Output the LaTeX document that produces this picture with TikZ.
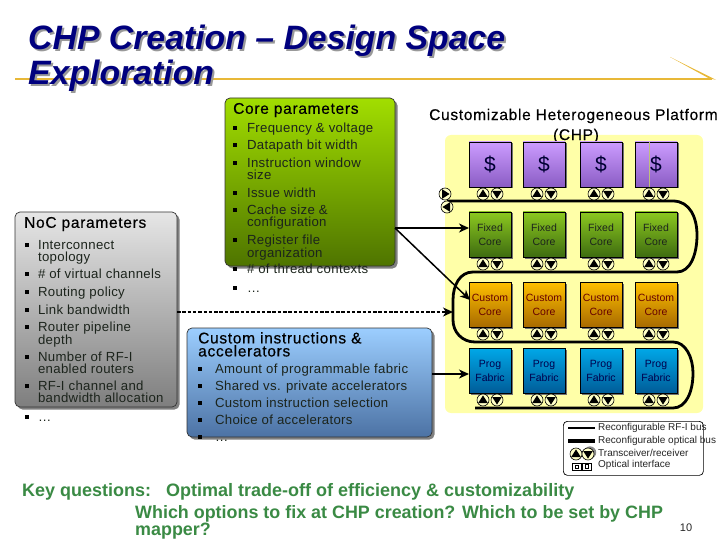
\documentclass[tikz,border=0pt]{standalone}
\usepackage{fontspec}
\setmainfont{Liberation Sans}
\newfontfamily\lsfont[LetterSpace=2.5]{Liberation Sans}
\newfontfamily\headfont[LetterSpace=4.5,FakeBold=0.4]{Liberation Sans}
\usetikzlibrary{arrows.meta,shadows,calc}
\definecolor{inktxt}{HTML}{1C241C}
\definecolor{navy}{HTML}{00007E}
\definecolor{keygreen}{HTML}{3A8A44}
\definecolor{gold}{HTML}{E8B838}
\definecolor{pale}{HTML}{FFFFA8}
\definecolor{tcfill}{HTML}{FFFFC8}
\definecolor{cacheT}{HTML}{CC9CFF}\definecolor{cacheB}{HTML}{8A5CC4}
\definecolor{fixedT}{HTML}{8CC820}\definecolor{fixedB}{HTML}{3E6C10}
\definecolor{customT}{HTML}{FFC000}\definecolor{customB}{HTML}{A86A00}
\definecolor{progT}{HTML}{00A8E8}\definecolor{progB}{HTML}{005C98}
\definecolor{coreT}{HTML}{A2DE00}\definecolor{coreB}{HTML}{4E7400}
\definecolor{nocT}{HTML}{E6E6E6}\definecolor{nocB}{HTML}{7E7E7E}
\definecolor{accelT}{HTML}{9CCEFF}\definecolor{accelB}{HTML}{4C72A4}
\newcommand\fs[1]{\fontsize{#1}{#1}\selectfont}
\tikzset{
  bigbox/.style={rounded corners=5pt,draw=black!80,line width=.7pt,anchor=north west,inner sep=0pt,outer sep=0pt,
     drop shadow={shadow xshift=2.5pt,shadow yshift=-2.5pt,fill=black!50,opacity=1}},
  cell/.style={draw=black,line width=.7pt,anchor=north west,inner sep=0pt,outer sep=0pt,
     minimum width=42pt,minimum height=45pt,align=center,
     drop shadow={shadow xshift=1.5pt,shadow yshift=-1.5pt,fill=black!55,opacity=1}},
  cachecell/.style={cell,top color=cacheT,bottom color=cacheB,text=black!80!blue,font=\fs{21}},
  fixedcell/.style={cell,top color=fixedT,bottom color=fixedB,text=inktxt,font=\fontsize{10.5}{14}\selectfont},
  customcell/.style={cell,top color=customT,bottom color=customB,text=black!60!red,font=\fontsize{10.5}{14}\selectfont},
  progcell/.style={cell,top color=progT,bottom color=progB,text=black!70!blue,font=\fontsize{10.5}{14}\selectfont},
  tc/.style={circle,draw=black,line width=.6pt,fill=tcfill,minimum size=12pt,inner sep=0pt},
  tcup/.style={tc,path picture={\fill[black] ([shift={(0,-4.6)}]path picture bounding box.center) -- ++(4.8,7.6) -- ++(-9.6,0) -- cycle;}},
  tcdown/.style={tc,path picture={\fill[black] ([shift={(0,4.6)}]path picture bounding box.center) -- ++(4.8,-7.6) -- ++(-9.6,0) -- cycle;}},
  tcright/.style={tc,path picture={\fill[black] ([shift={(4.6,0)}]path picture bounding box.center) -- ++(-7.6,4.8) -- ++(0,-9.6) -- cycle;}},
  tcleft/.style={tc,path picture={\fill[black] ([shift={(-4.6,0)}]path picture bounding box.center) -- ++(7.6,4.8) -- ++(0,-9.6) -- cycle;}},
  itemtxt/.style={anchor=north west,inner sep=0pt,outer sep=0pt,align=left,text=inktxt,font=\lsfont\fontsize{13.2}{12}\selectfont},
  bul/.style={fill=black,inner sep=0pt,minimum size=3.2pt},
  heading/.style={anchor=west,inner sep=0pt,text=black,font=\headfont\fs{15.5}},
  busline/.style={line width=2.8pt,draw=black},
  linkarrow/.style={line width=1.5pt,-{Stealth[length=10pt,width=9pt,inset=3pt]}},
  keytxt/.style={anchor=west,inner sep=0pt,text=keygreen,font=\bfseries\fs{18}},
  legtxt/.style={anchor=west,inner sep=0pt,text=black!85,font=\fs{10}},
  titletxt/.style={anchor=west,inner sep=0pt,font=\bfseries\itshape\fs{33.8}},
}
\newcommand\itm[5]{\node[bul] (b#1) at (#2,#4) {};\node[itemtxt] (t#1) at (#3,#4-5.5) {\rule{0pt}{10pt}#5};}
\begin{document}
\begin{tikzpicture}[x=1pt,y=-1pt]
\useasboundingbox (0,0) rectangle (720,540);
\clip (0,0) rectangle (720,540);

% title
\path[fill=gold] (15,78.4) rectangle (712,79.8);
\path[fill=gold] (670,57) -- (716,79.8) -- (709,78.4) -- cycle;
\node[titletxt,text=black!40] (titleAshadow) at (30,43) {CHP Creation – Design Space};
\node[titletxt,text=black!40] (titleBshadow) at (30,78) {Exploration};
\node[titletxt,text=navy] (titleA) at (28,41) {CHP Creation – Design Space};
\node[titletxt,text=navy] (titleB) at (28,76) {Exploration};

% platform
\fill[pale,rounded corners=6pt] (445,135) rectangle (703,413);
\node[heading] (plat) at (429,116) {Customizable Heterogeneous Platform};
\node[heading,anchor=center] (platb) at (576,136) {(CHP)};

% item that runs past its panel lies under it
\itm{n8}{27}{38}{417}{…}

% panels
\node[bigbox,minimum width=170pt,minimum height=168pt,top color=coreT,bottom color=coreB] (core) at (225,98) {};
\node[bigbox,minimum width=162pt,minimum height=195pt,top color=nocT,bottom color=nocB] (noc) at (15,212) {};
\node[bigbox,minimum width=245pt,minimum height=109pt,top color=accelT,bottom color=accelB] (accel) at (187,328) {};

% panel text
\node[heading] (coreh) at (233,110) {Core parameters};
\itm{c1}{235}{247}{128}{Frequency \& voltage}
\itm{c2}{235}{247}{145}{Datapath bit width}
\itm{c3}{235}{247}{163}{Instruction window\\size}
\itm{c4}{235}{247}{193}{Issue width}
\itm{c5}{235}{247}{210}{Cache size \&\\configuration}
\itm{c6}{235}{247}{240}{Register file\\organization}
\itm{c8}{235}{247}{269}{\# of thread contexts}
\itm{c9}{235}{247}{288}{…}

\node[heading] (noch) at (24,224) {NoC parameters};
\itm{n1}{27}{38}{245}{Interconnect\\topology}
\itm{n2}{27}{38}{274}{\# of virtual channels}
\itm{n3}{27}{38}{292}{Routing policy}
\itm{n4}{27}{38}{310}{Link bandwidth}
\itm{n5}{27}{38}{327}{Router pipeline\\depth}
\itm{n6}{27}{38}{357}{Number of RF-I\\enabled routers}
\itm{n7}{27}{38}{386}{RF-I channel and\\bandwidth allocation}

\node[heading,anchor=north west,align=left,font=\headfont\fontsize{15.5}{13}\selectfont] (accelh) at (198,332) {Custom instructions \&\\accelerators};
\itm{a1}{200}{215}{369}{Amount of programmable fabric}
\itm{a2}{200}{215}{386}{Shared vs. private accelerators}
\itm{a3}{200}{215}{403}{Custom instruction selection}
\itm{a4}{200}{215}{420}{Choice of accelerators}
\itm{a5}{200}{215}{437}{…}

% bus
\coordinate (busA) at (447,201);
\coordinate (busB) at (475,408);
\draw[busline] (busA) -- (673,201) .. controls (690,201) and (697,218) .. (697,235)
  .. controls (697,255) and (690,272) .. (677,272) -- (473,272)
  .. controls (460,272) and (453,285) .. (453,300) -- (453,320)
  .. controls (453,332) and (462,342) .. (475,342) -- (673,342)
  .. controls (686,342) and (693,358) .. (693,373)
  .. controls (693,392) and (686,408) .. (673,408) -- (busB);

% cells and transceivers
\foreach \i/\x in {1/469,2/523,3/580,4/635}{
  \node[cachecell] (cache\i) at (\x,142) {\$};
  \node[fixedcell] (fixed\i) at (\x,212) {Fixed\\Core};
  \node[customcell] (custom\i) at (\x,282) {Custom\\Core};
  \node[progcell] (prog\i) at (\x,348) {Prog\\Fabric};
  \foreach \r/\y in {a/194,b/264,c/334,d/400}{
    \node[tcup] (up\r\i) at (\x+14,\y) {};
    \node[tcdown] (dn\r\i) at (\x+28,\y) {};
  }
}
\draw[black!25!pale,line width=.6pt] (cache4.north west) ++(14,0) -- ++(0,45);
\node[tcright] (endR) at (445,194) {};
\node[tcleft] (endL) at (447,207) {};

% links
\coordinate (corePort) at (395,228);
\coordinate (nocPort) at (177,312);
\coordinate (busPort) at (453,312);
\coordinate (accelPort) at (432,374);
\coordinate (customIn) at (470,300);
\draw[linkarrow] (corePort) -- (fixed1.west |- corePort);
\draw[linkarrow] (corePort) -- (customIn);
\draw[linkarrow,dash pattern=on 3.5pt off 1.8pt] (nocPort) -- (busPort);
\draw[linkarrow] (accelPort) -- (prog1.west |- accelPort);

% legend
\node[draw=black,line width=.7pt,fill=white,rounded corners=4pt,anchor=north west,inner sep=0pt,minimum width=140pt,minimum height=54pt] (legend) at (563,421) {};
\coordinate (lgA) at (568,428); \coordinate (lgAe) at (595,428);
\coordinate (lgB) at (568,441); \coordinate (lgBe) at (595,441);
\draw[line width=2.3pt] (lgA) -- (lgAe);
\draw[line width=4pt] (lgB) -- (lgBe);
\node[legtxt] (lg1) at (598,428) {Reconfigurable RF-I bus};
\node[legtxt] (lg2) at (598,441) {Reconfigurable optical bus};
\node[legtxt] (lg3) at (598,453) {Transceiver/receiver};
\node[legtxt] (lg4) at (598,465) {Optical interface};
\fill[black!45] (590,452.5) circle (6.2);
\node[tcup] (lgUp) at (576,454) {};
\node[tcdown] (lgDn) at (588,454) {};
\node[draw=black,line width=1pt,minimum width=8.5pt,minimum height=7pt,inner sep=0pt] (lgO1) at (577,466.5) {};
\node[draw=black,line width=1pt,minimum width=8.5pt,minimum height=7pt,inner sep=0pt] (lgO2) at (587,466.5) {};
\draw[line width=.6pt] (575.3,465) rectangle (578.7,468.5);
\draw[line width=.6pt] (585.6,464.5) rectangle (588.4,468.5);

% key questions
\node[keytxt] (k1) at (22,492) {Key questions:};
\node[keytxt] (k2) at (166,492) {Optimal trade-off of efficiency \& customizability};
\node[keytxt,anchor=north west,align=left,font=\bfseries\fontsize{17.9}{15.5}\selectfont] (k3) at (135,505.5) {Which options to fix at CHP creation? Which to be set by CHP\\mapper?};
\node[inner sep=0pt,text=black!85,font=\fs{11}] (pg) at (686,528) {10};
\end{tikzpicture}
\end{document}
